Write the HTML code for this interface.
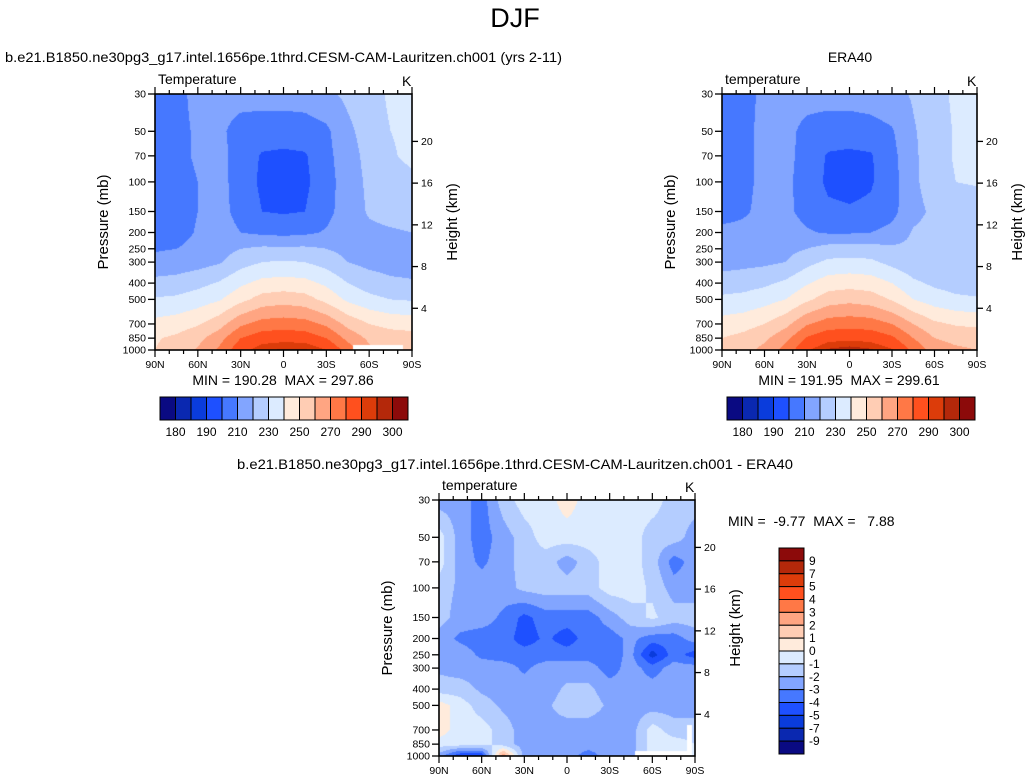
<!DOCTYPE html>
<html><head><meta charset="utf-8">
<style>
html,body{margin:0;padding:0;background:#fff;}
#wrap{position:relative;width:1030px;height:783px;overflow:hidden;font-family:"Liberation Sans",sans-serif;}
canvas{position:absolute;}
svg{position:absolute;left:0;top:0;}
text{font-family:"Liberation Sans",sans-serif;fill:#000;white-space:pre;}
</style></head>
<body>
<div id="wrap">
<canvas id="c1"></canvas>
<canvas id="c2"></canvas>
<canvas id="c3"></canvas>
<svg id="s" width="1030" height="783">
<text x="515" y="27" font-size="27" text-anchor="middle">DJF</text>
<text x="5" y="62" font-size="14" textLength="557" lengthAdjust="spacingAndGlyphs">b.e21.B1850.ne30pg3_g17.intel.1656pe.1thrd.CESM-CAM-Lauritzen.ch001 (yrs 2-11)</text>
<text x="850" y="62" font-size="14" text-anchor="middle">ERA40</text>
<text x="515" y="469" font-size="14" text-anchor="middle" textLength="556" lengthAdjust="spacingAndGlyphs">b.e21.B1850.ne30pg3_g17.intel.1656pe.1thrd.CESM-CAM-Lauritzen.ch001 - ERA40</text>
</svg>
</div>
<script>
// ---- data ----
const lats = ["90N","75N","60N","45N","30N","15N","0","15S","30S","45S","60S","75S","90S"];
const levels = [30,50,70,100,150,200,250,300,400,500,700,850,1000];
const heightTicks = [4,8,12,16,20];
const latTickLabels = ["90N","60N","30N","0","30S","60S","90S"];
const tLevels = [180,185,190,200,210,220,230,240,250,260,270,280,290,295,300];
const tLabels = ["180","190","210","230","250","270","290","300"];
const dLevels = [-9,-7,-5,-4,-3,-2,-1,0,1,2,3,4,5,7,9];
const dLabels = ["9","7","5","4","3","2","1","0","-1","-2","-3","-4","-5","-7","-9"];
const colors = ["#0a0a82","#0a28b0","#0a3cdc","#1e50ff","#4678ff","#82a5ff","#b4cdff","#dcebff","#ffebdc","#ffcdb4","#ffa582","#ff7846","#ff501e","#dc3c0a","#b4280a","#8c0a0a"];
const modelT = [
[205,208,212,214,214,214,214,215,218,222,225,232,233],
[207,208,211,212,206,205,205,205,208,218,224,230,232],
[207,208,211,213,206,199,198,199,207,216,223,229,232],
[207,207,210,213,206,198,196,198,206,215,222,226,228],
[207,205,210,213,207,200,199,200,207,215,221,223,224],
[207,206,211,214,210,208,207,208,211,216,218,219,220],
[209,210,213,216,220,222,222,222,220,217,216,215,215],
[213,214,216,219,226,230,231,230,226,220,217,216,216],
[223,224,227,231,238,243,244,243,238,230,225,222,221],
[231,232,235,239,247,254,256,254,247,238,233,230,229],
[243,245,249,256,268,274,275,274,268,257,250,247,246],
[249,252,257,266,280,286,287,286,280,267,258,255,254],
[250,254,261,272,287,294,296,296,290,276,262,258,256]];
const eraT = [
[207,207,212,214,214,214,214,215,217,221,226,232,233],
[207,208,212,213,207,205,205,206,209,219,225,231,233],
[207,208,212,213,206,199,198,199,207,218,226,231,233],
[207,208,212,212,206,198,197,199,206,218,225,230,231],
[207,209,212,212,207,202,201,202,207,217,222,224,224],
[212,212,213,214,211,209,209,210,213,221,223,223,223],
[214,214,215,217,220,224,224,224,222,222,222,222,222],
[216,217,218,220,227,232,233,232,227,223,222,222,221],
[225,226,228,232,239,245,246,245,240,232,228,226,225],
[232,233,236,240,248,255,257,255,249,240,235,232,231],
[244,246,250,257,269,275,276,275,270,260,252,249,248],
[250,253,258,267,281,287,288,287,282,270,260,257,256],
[252,256,263,274,289,296,298,296,291,278,265,262,260]];
const diffT = [
[-2.5,-2.5,-3.5,-1.5,-0.5,-0.5,0.5,-0.5,-0.5,-0.5,-0.5,-1.5,-1.5],
[-0.5,-2.5,-3.5,-2.5,-1.5,-0.5,-0.5,-0.5,-0.5,-0.5,-1.5,-1.5,-2.5],
[-0.5,-2.5,-3.2,-2.5,-1.5,-1.5,-2.5,-1.5,-0.5,-0.5,-1.5,-3.5,-2.5],
[-1.5,-2.2,-2.5,-2.5,-1.7,-1.5,-1.5,-1.5,-0.5,-0.5,-1.2,-2.5,-2.5],
[-1.5,-2.5,-2.5,-3.2,-4.3,-3.5,-3.5,-3.5,-2.5,-1.5,-0.8,-1.5,-1.5],
[-2.5,-3.2,-3.5,-3.5,-4.5,-3.8,-4.5,-3.5,-3.5,-2.7,-3.5,-3.5,-2.5],
[-2.5,-2.5,-3.2,-3.5,-3.5,-3.5,-3.5,-3.5,-3.5,-2.7,-5.5,-3.5,-4.5],
[-2.2,-2.5,-2.5,-2.5,-3.2,-2.5,-2.5,-2.5,-3.5,-2.5,-3.5,-2.5,-2.5],
[-1.5,-1.5,-2.2,-2.5,-2.5,-2.5,-1.8,-1.8,-2.5,-2.5,-2.5,-2.5,-2.5],
[0.5,-0.5,-1.5,-2.2,-2.5,-2.2,-1.5,-1.5,-2.2,-2.5,-2.5,-2.5,-2.5],
[0.5,-0.5,-0.5,-1.5,-2.5,-2.3,-2.5,-2.5,-2.5,-2.5,-0.5,-1.5,-1.5],
[-0.5,-0.5,-0.5,-1.5,-2.5,-2.5,-2.5,-2.5,-2.5,-2.5,-0.5,-0.5,-1.0],
[-2.5,-5,-5,3,-2.5,-2.5,-2.5,-3.5,-2.5,-2.5,-0.5,-0.5,-0.5]];

const NS="http://www.w3.org/2000/svg";
const svg=document.getElementById('s');
function mk(tag,attrs,parent){const e=document.createElementNS(NS,tag);for(const k in attrs)e.setAttribute(k,attrs[k]);(parent||svg).appendChild(e);return e;}

function colorFor(v,lv){let i=0;while(i<lv.length&&v>=lv[i])i++;return colors[i];}
function hexRgb(h){return [parseInt(h.substr(1,2),16),parseInt(h.substr(3,2),16),parseInt(h.substr(5,2),16)];}

function sample(grid,fx,p){
  const n=lats.length-1;let xi=fx*n;let i0=Math.min(n-1,Math.floor(xi));let tx=xi-i0;
  const lp=Math.log(p);let j0=0;
  while(j0<levels.length-2&&p>levels[j0+1])j0++;
  let ty=(lp-Math.log(levels[j0]))/(Math.log(levels[j0+1])-Math.log(levels[j0]));
  ty=Math.max(0,Math.min(1,ty));
  const a=grid[j0][i0],b=grid[j0][i0+1],c=grid[j0+1][i0],d=grid[j0+1][i0+1];
  return (a*(1-tx)+b*tx)*(1-ty)+(c*(1-tx)+d*tx)*ty;
}

function panel(cid,grid,lv,x0,y0,W,H,title,holes){
  const cv=document.getElementById(cid);
  cv.style.left=x0+'px';cv.style.top=y0+'px';cv.width=W;cv.height=H;
  const ctx=cv.getContext('2d');const img=ctx.createImageData(W,H);
  const L0=Math.log(30),L1=Math.log(1000);
  for(let y=0;y<H;y++){
    const p=Math.exp(L0+(y+0.5)/H*(L1-L0));
    for(let x=0;x<W;x++){
      const v=sample(grid,(x+0.5)/W,p);
      const rgb=hexRgb(colorFor(v,lv));const k=(y*W+x)*4;
      img.data[k]=rgb[0];img.data[k+1]=rgb[1];img.data[k+2]=rgb[2];img.data[k+3]=255;
    }
  }
  ctx.putImageData(img,0,0);
  ctx.fillStyle='#fff';
  holes.forEach(h=>ctx.fillRect(h[0],h[1],h[2],h[3]));
  const g=mk('g',{});
  
  
  mk('rect',{x:x0,y:y0,width:W,height:H,fill:'none',stroke:'#000','stroke-width':1.6},g);
  const py=p=>y0+(Math.log(p)-L0)/(L1-L0)*H;
  levels.forEach(p=>{
    const yy=py(p);
    mk('line',{x1:x0-7,x2:x0,y1:yy,y2:yy,stroke:'#000','stroke-width':1.3},g);
    const t=mk('text',{x:x0-9,y:yy+3.5,'font-size':10.5,'text-anchor':'end'},g);t.textContent=p;
  });
  for(let d=0;d<=180;d+=10){
    const xx=x0+d/180*W;const maj=d%30===0;
    mk('line',{x1:xx,x2:xx,y1:y0,y2:y0-(maj?7:4),stroke:'#000','stroke-width':1.2},g);
    mk('line',{x1:xx,x2:xx,y1:y0+H,y2:y0+H+(maj?7:4),stroke:'#000','stroke-width':1.2},g);
  }
  latTickLabels.forEach((s,i)=>{const t=mk('text',{x:x0+i/6*W,y:y0+H+18,'font-size':10.5,'text-anchor':'middle'},g);t.textContent=s;});
  heightTicks.forEach(h=>{
    const p=1000*Math.exp(-h/7);const yy=py(p);
    mk('line',{x1:x0+W,x2:x0+W+6,y1:yy,y2:yy,stroke:'#000','stroke-width':1.3},g);
    const t=mk('text',{x:x0+W+9,y:yy+3.5,'font-size':10.5},g);t.textContent=h;
  });
  let t=mk('text',{x:x0+3,y:y0-10,'font-size':14},g);t.textContent=title;
  t=mk('text',{x:x0+W-10,y:y0-8,'font-size':14},g);t.textContent='K';
  t=mk('text',{transform:`translate(${x0-47},${y0+H/2}) rotate(-90)`,'font-size':15,'text-anchor':'middle'},g);t.textContent='Pressure (mb)';
  t=mk('text',{transform:`translate(${x0+W+45},${y0+H/2}) rotate(-90)`,'font-size':15,'text-anchor':'middle'},g);t.textContent='Height (km)';
}

panel('c1',modelT,tLevels,155,94,257,256,'Temperature',[[198,251,50,6]]);
panel('c2',eraT,tLevels,722,94,255,256,'temperature',[]);
panel('c3',diffT,dLevels,439,500,256,256,'temperature',[[196,251,52,6],[248,225,5,31]]);

function minmax(x,y,s,anchor,name){const t=mk('text',{x:x,y:y,'font-size':14,'text-anchor':anchor});t.textContent=s;

}
minmax(283,385,'MIN = 190.28  MAX = 297.86','middle','model-min-max');
minmax(849,385,'MIN = 191.95  MAX = 299.61','middle','era40-min-max');
minmax(728,526,'MIN =  -9.77  MAX =   7.88','start','difference-min-max');

function hbar(x0,y0,W,H,name){
  const g=mk('g',{});
  
  
  const bw=W/colors.length;
  colors.forEach((c,i)=>{const r=mk('rect',{x:x0+i*bw,y:y0,width:bw,height:H,fill:c,stroke:'#000','stroke-width':1},g);
    
    });
  tLabels.forEach((s,k)=>{const i=2*k+1;const t=mk('text',{x:x0+i*bw,y:y0+H+16,'font-size':12,'text-anchor':'middle'},g);t.textContent=s;});
}
hbar(160,397,248,23,'model-colorbar');
hbar(727,397,248,23,'era40-colorbar');

(function vbar(x0,y0,W,H){
  const g=mk('g',{});
  
  
  const bh=H/colors.length;
  colors.slice().reverse().forEach((c,i)=>{const r=mk('rect',{x:x0,y:y0+i*bh,width:W,height:bh,fill:c,stroke:'#000','stroke-width':1},g);
    
    });
  dLabels.forEach((s,k)=>{const t=mk('text',{x:x0+W+5,y:y0+(k+1)*bh+4,'font-size':12},g);t.textContent=s;});
})(779,548,25,206);
</script>
</body></html>
